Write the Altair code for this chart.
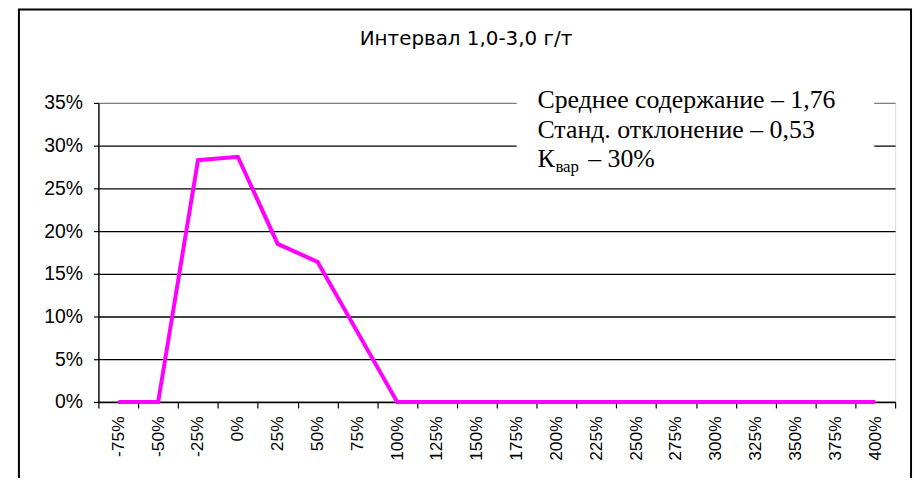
import altair as alt
import pandas as pd

categories = ["-75%", "-50%", "-25%", "0%", "25%", "50%", "75%", "100%", "125%", "150%",
              "175%", "200%", "225%", "250%", "275%", "300%", "325%", "350%", "375%", "400%"]
shares = [0.0, 0.0, 0.283, 0.287, 0.185, 0.164, 0.082, 0.0, 0.0, 0.0,
          0.0, 0.0, 0.0, 0.0, 0.0, 0.0, 0.0, 0.0, 0.0, 0.0]
y_ticks = [0.0, 0.05, 0.10, 0.15, 0.20, 0.25, 0.30, 0.35]
title_text = ["Интервал 1,0-3,0 г/т"]
stat_line1 = ["Среднее содержание – 1,76"]
stat_line2 = ["Станд. отклонение – 0,53"]
kvar_main = ["К"]
kvar_sub = ["вар"]
kvar_rest = ["– 30%"]

df = pd.DataFrame({"cat": categories, "share": shares})

W, H = 802, 301
SANS = "Liberation Sans"
TITLE_FONT = "DejaVu Sans"
SERIF = "Liberation Serif"

line = alt.Chart(df).mark_line(color="#FF00FF", strokeWidth=4, strokeJoin="miter").encode(
    x=alt.X("cat:N", sort=categories, bandPosition=0.5,
            scale=alt.Scale(type="band", paddingInner=0, paddingOuter=0),
            axis=alt.Axis(title=None, labelAngle=270, tickBand="extent", grid=False,
                          labelFont=SANS, labelFontSize=17.5, labelColor="black",
                          labelPadding=8, tickSize=6, tickColor="black", tickWidth=1.2,
                          domainColor="black", domainWidth=1.4)),
    y=alt.Y("share:Q", scale=alt.Scale(domain=[0, 0.35], nice=False, zero=True),
            axis=alt.Axis(title=None, values=y_ticks, format=".0%",
                          labelFont=SANS, labelFontSize=19.5, labelColor="black",
                          labelPadding=11, tickSize=5, tickColor="black", tickWidth=1.2,
                          domainColor="black", domainWidth=1.4,
                          grid=True, gridWidth=1.3,
                          gridColor={"condition": {"test": "datum.value >= 0.34", "value": "#808080"},
                                     "value": "#000000"})),
)

frame = alt.Chart(alt.Data(values=[{"k": 1}])).mark_rect(
    fillOpacity=0, stroke="black", strokeWidth=2
).encode(x=alt.value(-80), x2=alt.value(818), y=alt.value(-94), y2=alt.value(420))

box = alt.Chart(alt.Data(values=[{"k": 1}])).mark_rect(
    fill="white", stroke=None
).encode(x=alt.value(421), x2=alt.value(781), y=alt.value(-22), y2=alt.value(78))


def text_layer(values, x, y, font, size, align="left"):
    return alt.Chart(alt.Data(values=[{"t": v} for v in values])).mark_text(
        font=font, fontSize=size, align=align, baseline="alphabetic", color="black"
    ).encode(text="t:N", x=alt.value(x), y=alt.value(y))


title = text_layer(title_text, 370, -58, TITLE_FONT, 20, align="center")
t1 = text_layer(stat_line1, 442, 5, SERIF, 26)
t2 = text_layer(stat_line2, 442, 35, SERIF, 26)
t3a = text_layer(kvar_main, 442, 64, SERIF, 26)
t3b = text_layer(kvar_sub, 460, 70, SERIF, 17)
t3c = text_layer(kvar_rest, 493, 64, SERIF, 26)

chart = alt.layer(line, box, frame, title, t1, t2, t3a, t3b, t3c).properties(
    width=W, height=H,
    autosize=alt.AutoSizeParams(type="none"),
    padding={"left": 91, "top": 94, "right": 20, "bottom": 75},
).configure_view(stroke="#808080", strokeWidth=1.2).configure(background="white")

chart.save("out.html", embed_options={"renderer": "svg", "actions": False})
